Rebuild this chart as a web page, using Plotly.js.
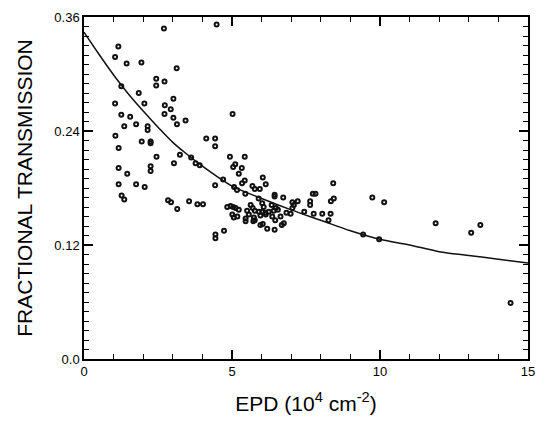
<!DOCTYPE html>
<html>
<head>
<meta charset="utf-8">
<script src="https://cdn.plot.ly/plotly-3.0.1.min.js"></script>
<style>html,body{margin:0;padding:0;background:#fff;}div.p{width:537px;height:421px;}</style>
</head>
<body>
<div id="chart" class="p"></div>
<script>
// Scatter data: EPD (10^4 cm^-2) vs fractional transmission
const epd = [4.48,2.70,1.16,1.05,1.44,1.94,3.13,2.44,2.72,2.44,1.26,1.85,3.02,1.05,2.04,2.73,2.93,2.72,3.02,1.26,1.56,3.43,3.14,1.36,1.76,2.15,2.15,1.06,1.95,2.25,2.25,4.13,4.43,4.43,5.02,1.17,3.24,2.45,3.04,3.62,3.77,3.91,1.17,1.46,2.25,2.25,1.17,1.76,2.05,1.27,1.36,2.84,2.94,3.55,3.83,4.02,3.15,4.93,5.43,5.11,5.04,5.33,5.23,6.04,5.43,5.34,6.14,4.43,4.70,5.07,5.69,5.77,5.94,5.17,5.45,4.84,4.95,5.04,5.12,5.23,5.63,5.70,5.90,6.02,6.07,6.34,6.48,6.55,5.51,5.57,5.77,5.91,6.02,6.13,6.24,6.41,5.01,5.06,5.18,5.46,5.74,5.96,6.14,6.36,6.64,5.46,5.72,5.77,5.96,6.04,6.19,6.44,4.73,4.44,4.44,8.42,6.44,6.44,6.73,7.73,7.82,7.04,7.09,7.04,7.22,7.64,7.64,8.44,8.34,7.44,7.76,8.05,8.33,6.46,6.98,8.26,6.75,6.68,6.84,9.74,10.14,11.88,13.08,13.39,9.97,9.43,14.41];
const transmission = [0.352,0.348,0.329,0.318,0.311,0.312,0.306,0.295,0.292,0.288,0.287,0.280,0.274,0.269,0.269,0.267,0.263,0.258,0.254,0.257,0.255,0.251,0.247,0.245,0.247,0.245,0.241,0.235,0.229,0.229,0.227,0.232,0.232,0.224,0.258,0.222,0.215,0.213,0.206,0.212,0.206,0.204,0.201,0.195,0.203,0.198,0.184,0.184,0.181,0.172,0.168,0.167,0.165,0.166,0.163,0.163,0.158,0.213,0.213,0.205,0.202,0.201,0.195,0.191,0.188,0.185,0.184,0.183,0.189,0.181,0.182,0.179,0.179,0.178,0.174,0.160,0.161,0.160,0.159,0.157,0.162,0.159,0.169,0.164,0.160,0.162,0.159,0.157,0.156,0.152,0.156,0.155,0.155,0.154,0.155,0.156,0.152,0.149,0.150,0.148,0.149,0.151,0.152,0.150,0.150,0.145,0.145,0.146,0.141,0.142,0.137,0.136,0.135,0.131,0.127,0.185,0.173,0.171,0.170,0.174,0.174,0.165,0.162,0.159,0.166,0.166,0.162,0.169,0.166,0.155,0.153,0.153,0.153,0.146,0.153,0.146,0.143,0.141,0.154,0.170,0.165,0.143,0.133,0.141,0.126,0.131,0.059];
// Fitted curve
const fitX = [0,0.5,1,1.5,2,2.5,3,3.5,4,4.5,5,6,7,8,9,10,11,12,13,14,15];
const fitY = [0.344,0.321,0.299,0.279,0.261,0.244,0.228,0.215,0.203,0.192,0.182,0.169,0.157,0.146,0.135,0.126,0.120,0.113,0.109,0.105,0.101];
// Tick spacing / label text
const xMajorStep = 5, xMinorStep = 1;
const yMajorStep = 0.12, yMinorStep = 0.01;
const yLabelAlias = {'0': '0.0'};

const font = 'Liberation Sans, Arial, Helvetica, sans-serif';
function ax(range, dtick, minor, title, size, standoff) {
  return {range: range, showgrid: false, zeroline: false, showline: true,
    mirror: 'allticks', ticks: 'inside', ticklen: 9, tickwidth: 1.5, tickcolor: 'black', dtick: dtick,
    linecolor: 'black', linewidth: 1.5,
    minor: {dtick: minor, ticklen: 5, ticks: 'inside', tickcolor: 'black', tickwidth: 1.2},
    tickfont: {family: font, size: 13, color: 'black'},
    title: {text: title, font: {family: font, size: size, color: 'black'}, standoff: standoff}};
}
const traces = [
  {x: fitX, y: fitY, mode: 'lines', line: {color: '#111', width: 1.5, shape: 'spline'}, hoverinfo: 'skip'},
  {x: epd, y: transmission, mode: 'markers', marker: {symbol: 'circle-open', size: 4, color: '#111', line: {width: 2, color: '#111'}}}
];
const xa = ax([0, 15], xMajorStep, xMinorStep, 'EPD (10<sup>4</sup> cm<sup>-2</sup>)', 21, 18);
const ya = ax([0, 0.36], yMajorStep, yMinorStep, 'FRACTIONAL TRANSMISSION', 21, 16);
ya.labelalias = yLabelAlias;
const layout = {
  width: 537, height: 421,
  margin: {l: 84, r: 9, t: 17, b: 62},
  showlegend: false,
  font: {family: font, color: 'black'},
  xaxis: xa, yaxis: ya
};
Plotly.newPlot('chart', traces, layout, {displayModeBar: false});
</script>
</body>
</html>
